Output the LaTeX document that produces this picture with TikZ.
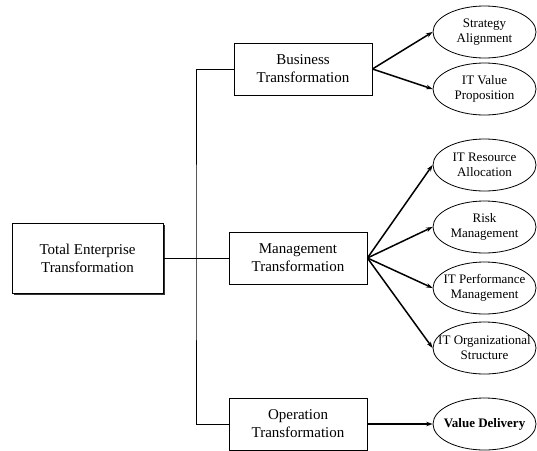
\documentclass[tikz,border=0pt]{standalone}
\usepackage{fontspec}
\setmainfont{Liberation Serif}
\usetikzlibrary{shapes.geometric,arrows.meta,shadows}
\newcommand{\zl}[1]{\makebox[0pt]{#1}}
\begin{document}
\begin{tikzpicture}[x=1pt,y=-1pt,
  box/.style={draw,fill=white,line width=0.8pt,minimum width=138pt,minimum height=52pt,inner sep=0pt,align=center,font=\fontsize{15}{18}\selectfont},
  oval/.style={draw,fill=white,ellipse,line width=0.8pt,minimum width=103pt,minimum height=52pt,inner sep=0pt,align=center,font=\fontsize{13}{15}\selectfont},
  conn/.style={line width=0.8pt},
  arr/.style={line width=1.5pt,-{Stealth[length=6.5pt,width=4.5pt]}}]
\useasboundingbox (0,0) rectangle (537,450);
\node[box,line width=1pt,minimum width=151pt,minimum height=70pt,drop shadow={shadow xshift=1.5pt,shadow yshift=-1.5pt,fill=black!80,opacity=1}] (te) at (87.5,258) {Total Enterprise\\Transformation};
\node[box] (bt) at (303,69) {Business\\Transformation};
\node[box] (mt) at (298,258) {Management\\Transformation};
\node[box] (ot) at (298,424) {Operation\\Transformation};
\coordinate (j) at (196,258);
\draw[conn] (bt.west) -| (j) |- (ot.west);
\draw[conn] (te.east) -- (mt.west);
\node[oval] (sa) at (484.5,32) {\zl{Strategy}\\\zl{Alignment}};
\node[oval] (iv) at (484.5,89) {\zl{IT Value}\\\zl{Proposition}};
\node[oval] (ra) at (484.5,165) {\zl{IT Resource}\\\zl{Allocation}};
\node[oval] (rm) at (484.5,227) {\zl{Risk}\\\zl{Management}};
\node[oval] (pm) at (484.5,288) {\zl{IT Performance}\\\zl{Management}};
\node[oval] (os) at (484.5,348) {\zl{IT Organizational}\\\zl{Structure}};
\node[oval,font=\fontsize{13}{15}\selectfont\bfseries] (vd) at (484.5,424) {\zl{Value Delivery}};
\draw[arr] (bt.east) -- (sa.west);
\draw[arr] (bt.east) -- (iv.west);
\draw[arr] (mt.east) -- (ra.west);
\draw[arr] (mt.east) -- (rm.west);
\draw[arr] (mt.east) -- (pm.west);
\draw[arr] (mt.east) -- (os.west);
\draw[arr] (ot.east) -- (vd.west);
\end{tikzpicture}
\end{document}
